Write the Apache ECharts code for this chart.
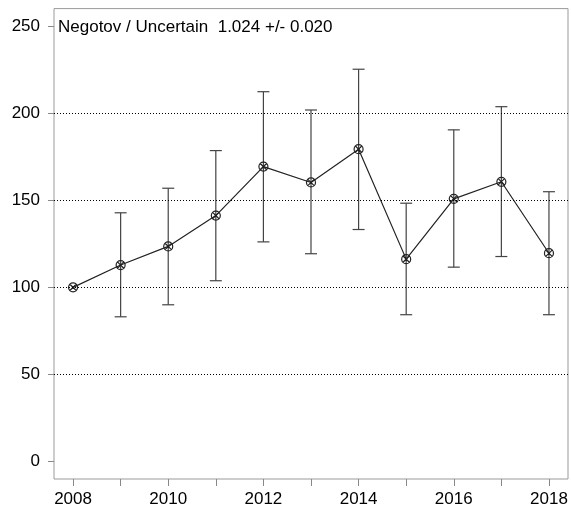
<!DOCTYPE html>
<html>
<head>
<meta charset="utf-8">
<script src="https://cdn.jsdelivr.net/npm/echarts@6/dist/echarts.min.js"></script>
<style>html,body{margin:0;padding:0;background:#fff}#c{width:571px;height:508px}</style>
</head>
<body>
<div id="c"></div>
<script>
const years = [2008, 2009, 2010, 2011, 2012, 2013, 2014, 2015, 2016, 2017, 2018];
const values = [100, 112.8, 123.5, 141.2, 169.3, 160.2, 179.3, 116.2, 150.8, 160.6, 119.6];
const upper = [100, 142.8, 156.9, 178.5, 212.3, 201.8, 225.2, 148.3, 190.4, 203.7, 154.9];
const lower = [100, 83.1, 90.0, 103.8, 126.1, 119.3, 133.2, 84.3, 111.6, 117.7, 84.3];
const xTickLabels = [2008, 2010, 2012, 2014, 2016, 2018];
const yTickLabels = [0, 50, 100, 150, 200, 250];
const gridLevels = [50, 100, 150, 200];
const titleText = 'Negotov / Uncertain  1.024 +/- 0.020';

const FONT = '"Liberation Sans", Arial, sans-serif';
const chart = echarts.init(document.getElementById('c'), null, {renderer: 'canvas'});

const barData = years.map((y, i) => [y, lower[i], upper[i]]).filter(d => d[2] !== d[1]);

chart.setOption({
  animation: false,
  backgroundColor: '#fff',
  title: {
    text: titleText,
    left: 53, top: 14,
    textStyle: {fontFamily: FONT, fontSize: 17, fontWeight: 'normal', color: '#000'}
  },
  grid: {left: 54, right: 3, top: 8.6, bottom: 28.6, show: true, borderColor: '#9a9a9a', borderWidth: 1},
  xAxis: {
    type: 'value', min: 2007.6, max: 2018.4,
    axisLine: {show: false, onZero: false},
    splitLine: {show: false},
    axisTick: {show: true, customValues: years, length: 7, lineStyle: {color: '#888'}},
    axisLabel: {customValues: xTickLabels, formatter: v => String(v), fontFamily: FONT, fontSize: 17, color: '#000', margin: 12}
  },
  yAxis: {
    type: 'value', min: -10, max: 260,
    axisLine: {show: false, onZero: false},
    splitLine: {show: false},
    axisTick: {show: true, customValues: yTickLabels, length: 6, lineStyle: {color: '#888'}},
    axisLabel: {customValues: yTickLabels, formatter: v => String(v), fontFamily: FONT, fontSize: 17, color: '#000', margin: 14}
  },
  series: [
    {
      type: 'custom',
      silent: true,
      data: barData,
      renderItem: function (params, api) {
        const x = api.value(0);
        const lo = api.coord([x, api.value(1)]);
        const hi = api.coord([x, api.value(2)]);
        const w = 6;
        const style = {stroke: '#444', lineWidth: 1.2, fill: null};
        return {
          type: 'group',
          children: [
            {type: 'line', shape: {x1: lo[0], y1: lo[1], x2: hi[0], y2: hi[1]}, style: style},
            {type: 'line', shape: {x1: lo[0] - w, y1: lo[1], x2: lo[0] + w, y2: lo[1]}, style: style},
            {type: 'line', shape: {x1: hi[0] - w, y1: hi[1], x2: hi[0] + w, y2: hi[1]}, style: style}
          ]
        };
      },
      z: 2
    },
    {
      type: 'line',
      data: years.map((y, i) => [y, values[i]]),
      lineStyle: {color: '#222', width: 1.2},
      symbol: 'path://M0,5A5,5 0 1,1 10,5A5,5 0 1,1 0,5Z M1.5,1.5L8.5,8.5M8.5,1.5L1.5,8.5',
      symbolSize: 9,
      itemStyle: {color: 'rgba(0,0,0,0)', borderColor: '#222', borderWidth: 1.2},
      z: 3,
      markLine: {
        silent: true,
        symbol: 'none',
        label: {show: false},
        lineStyle: {color: '#000', type: [1, 2], width: 1},
        data: gridLevels.map(v => ({yAxis: v}))
      }
    }
  ]
});
</script>
</body>
</html>
